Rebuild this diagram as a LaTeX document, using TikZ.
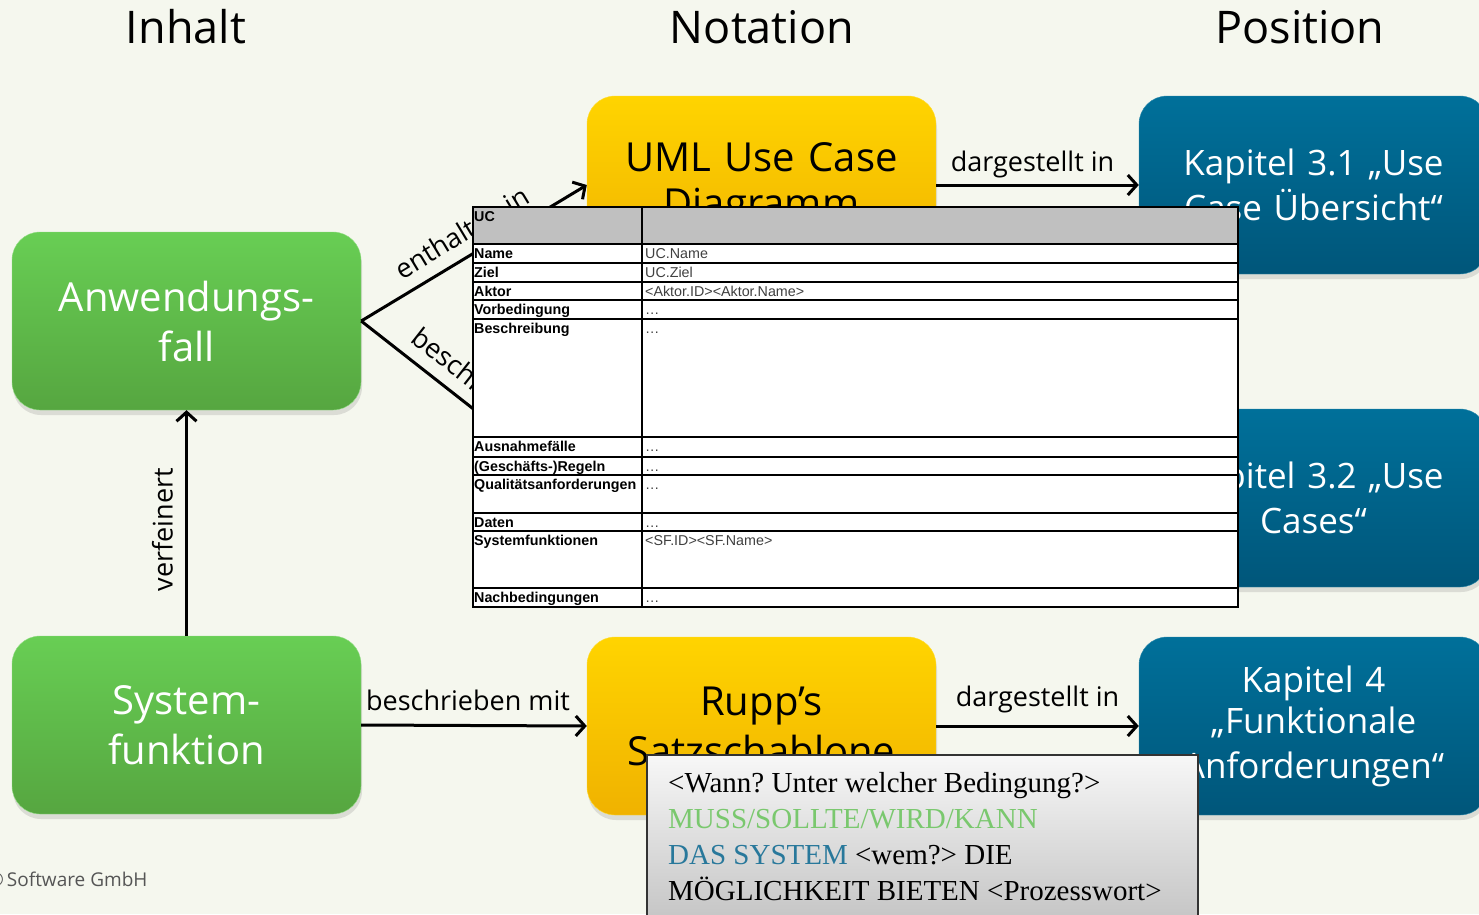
\documentclass[tikz,border=0pt]{standalone}
\usepackage{fontspec}
\setmainfont{Open Sans}
\newfontfamily\tabfont{Liberation Sans}
\newfontfamily\satzfont{Liberation Serif}
\usetikzlibrary{arrows.meta,shadows}
\frenchspacing

\definecolor{bgcol}{RGB}{245,247,238}
\definecolor{greentop}{RGB}{104,206,84}
\definecolor{greenbot}{RGB}{86,166,64}
\definecolor{yellowtop}{RGB}{255,212,0}
\definecolor{yellowbot}{RGB}{240,178,0}
\definecolor{bluetop}{RGB}{0,112,154}
\definecolor{bluebot}{RGB}{0,86,122}
\definecolor{headgray}{RGB}{192,192,192}
\definecolor{valgray}{RGB}{64,64,64}
\definecolor{mussgreen}{RGB}{122,200,110}
\definecolor{sysblue}{RGB}{40,120,155}
\definecolor{footgray}{RGB}{85,85,85}

\tikzset{
  greenbox/.style={top color=greentop, bottom color=greenbot, draw=greentop!70!white, text=white},
  yellowbox/.style={top color=yellowtop, bottom color=yellowbot, draw=yellowtop!80!white, text=black},
  bluebox/.style={top color=bluetop, bottom color=bluebot, draw=bluetop!80!white, text=white,
    font=\fontsize{35}{45}\selectfont}
}

\begin{document}
\begin{tikzpicture}[x=1pt,y=-1pt]
        \useasboundingbox (0,0) rectangle (1479,914);
        \fill[bgcol] (0,0) rectangle (1479,914);

        % column heads
        \begin{scope}[every node/.style={font=\fontsize{45}{54}\selectfont}]
                \node (hInhalt) at (186,27) {Inhalt};
                \node (hNotation) at (762,27) {Notation};
                \node (hPosition) at (1300,27) {Position};
        \end{scope}

        % boxes
        \begin{scope}[every node/.style={rounded corners=28pt, minimum width=349pt, minimum height=178pt,
                        inner sep=4pt, text width=330pt, align=center, font=\fontsize{40}{50}\selectfont,
                        drop shadow={opacity=0.22, shadow xshift=1pt, shadow yshift=-5pt}}]
                \node[greenbox] (uc) at (186.5,321) {Anwendungs-\\fall};
                \node[greenbox] (sf) at (186.5,725) {System-\\funktion};
                \node[yellowbox] (ucd) at (761.5,185) {\raisebox{-4pt}{UML Use Case}\\Diagramm};
                \node[yellowbox] (rupp) at (761.5,726) {Rupp’s\\Satzschablone};
                \node[bluebox] (k31) at (1313.5,185) {Kapitel 3.1 „Use\\Case Übersicht“};
                \node[bluebox] (k32) at (1313.5,498) {Kapitel 3.2 „Use\\Cases“};
                \node[bluebox] (k4) at (1313.5,726) {\raisebox{-4pt}{Kapitel 4}\\„Funktionale\\Anforderungen“};
        \end{scope}
        \coordinate (tplIn) at (587,498);

        % relations
        \begin{scope}[every node/.style={font=\fontsize{27}{32}\selectfont, inner sep=4pt},
                        every path/.style={line width=3pt, -{Straight Barb[length=9pt,width=20pt]}}]
                \path (uc.east) edge node[sloped, above=8pt] {enthalten in} (ucd.west);
                \path (uc.east) edge node[sloped, above=8pt] {beschrieben in} (tplIn);
                \path (ucd.east) edge node[above=2pt, xshift=-5pt] {dargestellt in} (k31.west);
                \path (sf.east) edge node[above=9pt, xshift=-6pt] {beschrieben mit} (rupp.west);
                \path (rupp.east) edge node[above=8pt] {dargestellt in} (k4.west);
                \path (sf.north) edge node[sloped, above=8pt, pos=0.47] {verfeinert} (uc.south);
        \end{scope}

        % use case template
        \begin{scope}[every node/.style={font=\tabfont\fontsize{14.3}{16}\selectfont, inner sep=0pt, anchor=base west}]
                \fill[white] (473,207) rectangle (1238,607);
                \fill[headgray] (473,207) rectangle (1238,244);
                \foreach \y in {244,263,282,300,319,437,457,475,513,531,588}
                        \draw[line width=1.6pt] (473,\y) -- (1238,\y);
                \draw[line width=1.6pt] (642,207) -- (642,607);
                \draw[line width=1.8pt] (473,207) rectangle (1238,607);
                \node (ucHead) at (474,221) {\bfseries UC};
                \foreach \y/\lab/\val [count=\i] in {244/Name/UC.Name, 263/Ziel/UC.Ziel,
                                282/Aktor/<Aktor.ID><Aktor.Name>, 300/Vorbedingung/…, 319/Beschreibung/…,
                                437/Ausnahmefälle/…, 457/(Geschäfts-)Regeln/…, 475/Qualitätsanforderungen/…,
                                513/Daten/…, 531/Systemfunktionen/<SF.ID><SF.Name>, 588/Nachbedingungen/…}
                {
                        \node (lab\i) at (474,\y+14.5) {\bfseries \lab};
                        \node[text=valgray] (val\i) at (645,\y+14.5) {\val};
                }
        \end{scope}

        % sentence template
        \draw[line width=2pt, draw=black!80, top color=black!3, bottom color=black!24] (647,755) rectangle (1198,930);
        \node[anchor=north west, align=left, inner sep=0pt, font=\satzfont\fontsize{29}{36}\selectfont] (satz) at (668,772)
                {<Wann? Unter welcher Bedingung?>\\
                 \textcolor{mussgreen}{MUSS/SOLLTE/WIRD/KANN}\\
                 \textcolor{sysblue}{DAS SYSTEM} <wem?> DIE\\
                 MÖGLICHKEIT BIETEN <Prozesswort>};

        \node[anchor=base east, text=footgray, font=\fontsize{19}{22}\selectfont] (footer) at (151,886) {©\hspace{3pt}Software GmbH};
\end{tikzpicture}
\end{document}
